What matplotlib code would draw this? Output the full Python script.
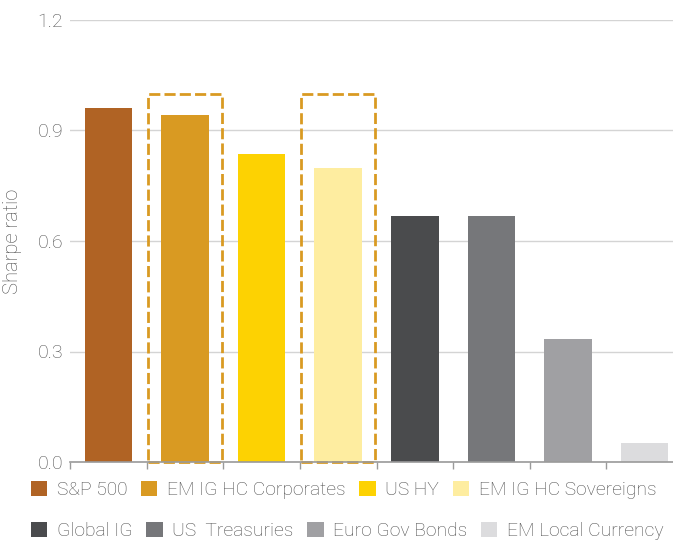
import matplotlib.pyplot as plt
from matplotlib.patches import Rectangle, Patch

plt.rcParams['font.family'] = ['Roboto', 'DejaVu Sans']

categories = ["S&P 500", "EM IG HC Corporates", "US HY", "EM IG HC Sovereigns",
              "Global IG", "US  Treasuries", "Euro Gov Bonds", "EM Local Currency"]
sharpe = [0.961, 0.942, 0.836, 0.798, 0.668, 0.668, 0.334, 0.052]
colors = ["#B06324", "#D99A22", "#FDD202", "#FEEDA0",
          "#4A4B4D", "#76777A", "#A0A0A3", "#DCDCDE"]
highlight = [1, 3]   # EM IG HC bars get the dashed box
box_top = 1.0

grey = "#4e4e4e"
fig = plt.figure(figsize=(6.73, 5.42), dpi=100)
ax = fig.add_axes([70 / 673, 80 / 542, 613 / 673, 442 / 542])

x = list(range(len(categories)))
ax.bar(x, sharpe, width=0.62, color=colors, zorder=3)

for i in highlight:
    ax.add_patch(Rectangle((i - 0.48, 0), 0.96, box_top, fill=False,
                           edgecolor="#D99A22", lw=2, ls=(0, (4, 1.5)),
                           joinstyle="round", zorder=4, clip_on=False))

ax.set_xlim(-0.5, len(categories) - 0.5)
ax.set_ylim(0, 1.2)
ax.set_yticks([0.0, 0.3, 0.6, 0.9, 1.2])
ax.set_yticklabels(["0.0", "0.3", "0.6", "0.9", "1.2"])
ax.tick_params(axis="y", length=0, pad=5, labelsize=14, labelcolor=grey)
for lbl in ax.get_yticklabels():
    lbl.set_fontweight("light")
ax.set_xticks([])
ax.set_xticks([i - 0.5 for i in range(len(categories) + 1)], minor=True)
ax.tick_params(axis="x", which="minor", length=5, width=1, color="#9a9a9a")
ax.grid(axis="y", color="#d4d4d4", lw=1, zorder=0)
for s in ["top", "right", "left"]:
    ax.spines[s].set_visible(False)
ax.spines["bottom"].set_color("#9a9a9a")
ax.spines["bottom"].set_linewidth(1.2)
ax.spines["bottom"].set_zorder(5)

ax.set_ylabel("Sharpe ratio", fontsize=14.5, color=grey, fontweight="light")
ax.yaxis.set_label_coords(-0.078, 0.5)

handles = [Patch(facecolor=c, edgecolor="none") for c in colors]
leg_kw = dict(ncol=4, frameon=False, handlelength=0.85,
              handleheight=0.85, handletextpad=0.5, columnspacing=0.7,
              borderaxespad=0, borderpad=0,
              prop={"family": "Roboto", "weight": "light", "size": 13.9})
leg1 = fig.legend(handles[:4], categories[:4], loc="center left",
                  bbox_to_anchor=(31 / 673, 1 - 490 / 542), **leg_kw)
leg2 = fig.legend(handles[4:], categories[4:], loc="center left",
                  bbox_to_anchor=(31 / 673, 1 - 531 / 542), **leg_kw)
for leg in (leg1, leg2):
    for t in leg.get_texts():
        t.set_color(grey)

fig.savefig("out.png", dpi=100)
